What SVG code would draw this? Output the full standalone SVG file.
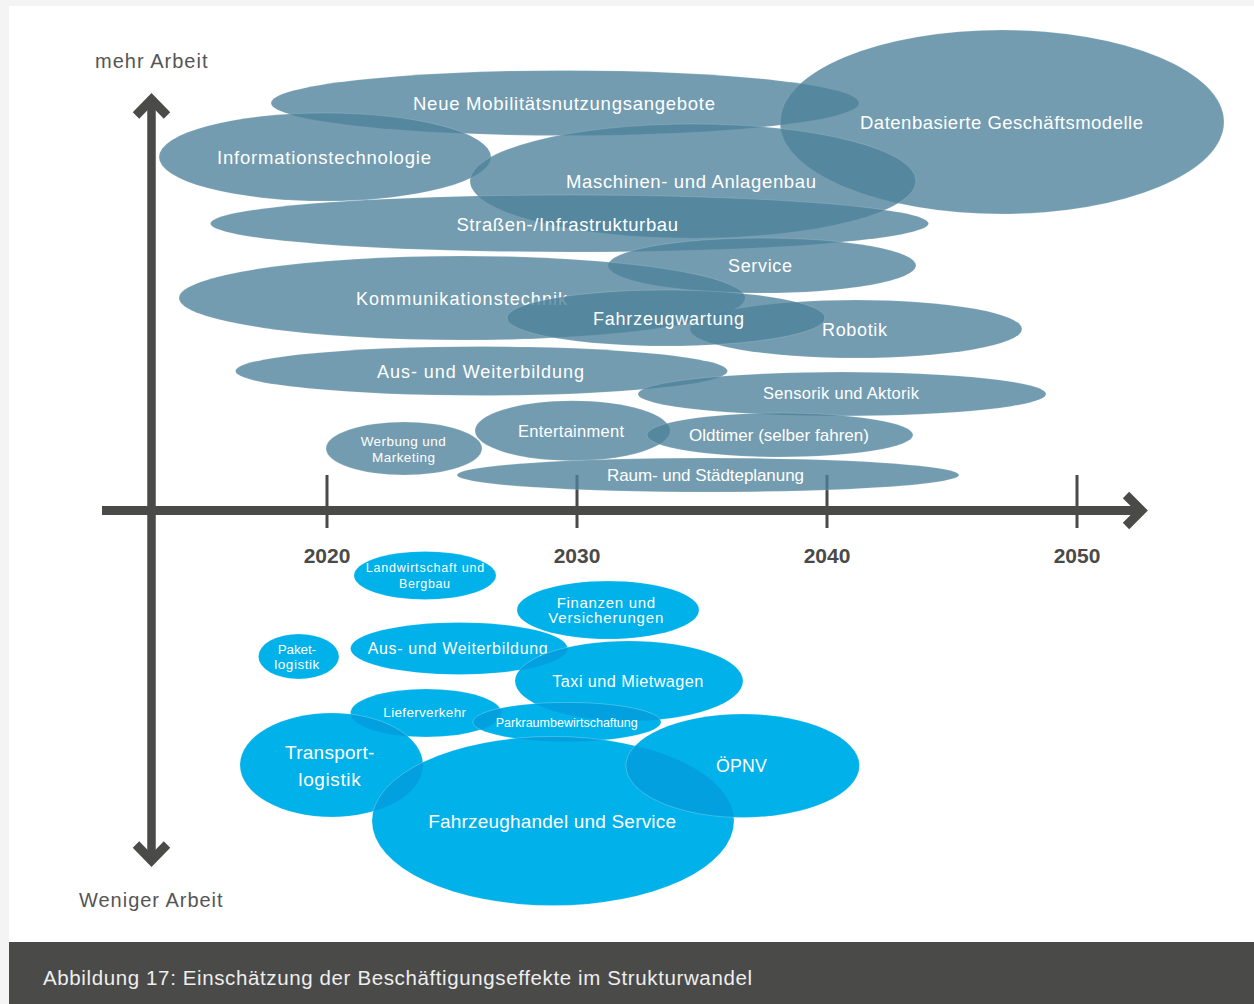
<svg xmlns="http://www.w3.org/2000/svg" width="1254" height="1004" viewBox="0 0 1254 1004">
<style>
.t{font-family:"Liberation Sans",Arial,Helvetica,sans-serif;fill:#ffffff}
.b{fill:#4d829b;fill-opacity:.79;stroke:#ffffff;stroke-opacity:.25;stroke-width:.6}
.c{fill:#00b1ea;stroke:#ffffff;stroke-opacity:.25;stroke-width:.6}
.co{fill:#03a0e0;stroke:#ffffff;stroke-opacity:.3;stroke-width:.6}
.ax{stroke:#4a4a49;fill:none;stroke-linecap:butt;stroke-linejoin:miter}
.yr{font-family:"Liberation Sans",Arial,sans-serif;font-weight:bold;font-size:21px;fill:#4a4a49;text-anchor:middle}
.al{font-family:"Liberation Sans",Arial,sans-serif;font-size:20px;fill:#555555}
</style>
<defs>
<clipPath id="k-aus"><ellipse cx="459" cy="648.5" rx="108.5" ry="26"/></clipPath>
<clipPath id="k-taxi"><ellipse cx="629" cy="681" rx="114" ry="40"/></clipPath>
<clipPath id="k-liefer"><ellipse cx="426" cy="713" rx="75.5" ry="24"/></clipPath>
<clipPath id="k-park"><ellipse cx="567" cy="722" rx="94" ry="19.5"/></clipPath>
<clipPath id="k-trans"><ellipse cx="331.5" cy="765" rx="91.5" ry="52"/></clipPath>
<clipPath id="k-fh"><ellipse cx="553" cy="821" rx="181" ry="84.5"/></clipPath>
</defs>

<rect x="0" y="0" width="1254" height="1004" fill="#f4f4f4"/>
<rect x="9" y="6" width="1245" height="936" fill="#ffffff"/>
<g id="caption">
<rect x="9" y="942" width="1245" height="62" fill="#4a4a49"/>
<text x="43" y="985" font-family="Liberation Sans, Arial, sans-serif" font-size="20.5" fill="#eeeeee" textLength="709">Abbildung 17: Einschätzung der Beschäftigungseffekte im Strukturwandel</text>
</g>

<g id="axes">
<line class="ax" x1="151.5" y1="99" x2="151.5" y2="861" stroke-width="8.5"/>
<polyline class="ax" points="136,115.5 151.5,99.5 167,115.5" stroke-width="9"/>
<polyline class="ax" points="136,844.5 151.5,860.5 167,844.5" stroke-width="9"/>
<line class="ax" x1="102" y1="510.5" x2="1141" y2="510.5" stroke-width="9"/>
<polyline class="ax" points="1126,495 1141.5,510.5 1126,526" stroke-width="9"/>
<line class="ax" x1="327" y1="475" x2="327" y2="528" stroke-width="3"/>
<line class="ax" x1="577" y1="475" x2="577" y2="528" stroke-width="3"/>
<line class="ax" x1="827" y1="475" x2="827" y2="528" stroke-width="3"/>
<line class="ax" x1="1077" y1="475" x2="1077" y2="528" stroke-width="3"/>
<text class="yr" x="327" y="563">2020</text>
<text class="yr" x="577" y="563">2030</text>
<text class="yr" x="827" y="563">2040</text>
<text class="yr" x="1077" y="563">2050</text>
<text class="al" x="95" y="67.7" textLength="112.5">mehr Arbeit</text>
<text class="al" x="79" y="907.3" textLength="143.6">Weniger Arbeit</text>
</g>

<g id="mehr-arbeit">
<g id="n-neue"><ellipse class="b" cx="565" cy="103" rx="294" ry="32.5"/><text class="t" x="413" y="110" font-size="18.5" textLength="302">Neue Mobilitätsnutzungsangebote</text></g>
<g id="n-daten"><ellipse class="b" cx="1002" cy="122" rx="222" ry="92"/><text class="t" x="860" y="129" font-size="18.5" textLength="283">Datenbasierte Geschäftsmodelle</text></g>
<g id="n-info"><ellipse class="b" cx="325" cy="157" rx="166" ry="44"/><text class="t" x="217" y="164" font-size="18.5" textLength="214">Informationstechnologie</text></g>
<g id="n-maschinen"><ellipse class="b" cx="693" cy="181" rx="223" ry="57"/><text class="t" x="566" y="187.7" font-size="18.5" textLength="250">Maschinen- und Anlagenbau</text></g>
<g id="n-strassen"><ellipse class="b" cx="569.5" cy="223.5" rx="359" ry="28.5"/><text class="t" x="456.4" y="230.7" font-size="18.5" textLength="221.6">Straßen-/Infrastrukturbau</text></g>
<g id="n-service"><ellipse class="b" cx="762" cy="265.5" rx="154" ry="27.5"/><text class="t" x="728" y="272" font-size="18" textLength="64">Service</text></g>
<g id="n-komm"><ellipse class="b" cx="462" cy="298" rx="283" ry="42"/><text class="t" x="356" y="305" font-size="18" textLength="211">Kommunikationstechnik</text></g>
<g id="n-robotik"><ellipse class="b" cx="856" cy="329" rx="166" ry="29"/><text class="t" x="822" y="335.7" font-size="18" textLength="65">Robotik</text></g>
<g id="n-wartung"><ellipse class="b" cx="666" cy="318" rx="159" ry="28"/><text class="t" x="593" y="325" font-size="18" textLength="151">Fahrzeugwartung</text></g>
<g id="n-bildung-plus"><ellipse class="b" cx="481.5" cy="371" rx="246" ry="24.5"/><text class="t" x="377" y="378" font-size="18" textLength="207">Aus- und Weiterbildung</text></g>
<g id="n-sensorik"><ellipse class="b" cx="842" cy="394" rx="204" ry="22"/><text class="t" x="763" y="399.3" font-size="16.5" textLength="156">Sensorik und Aktorik</text></g>
<g id="n-werbung"><ellipse class="b" cx="404" cy="448.5" rx="78" ry="26.5"/><text class="t" x="360.7" y="445.7" font-size="13.5" textLength="85">Werbung und</text><text class="t" x="372" y="461.7" font-size="13.5" textLength="63">Marketing</text></g>
<g id="n-entertainment"><ellipse class="b" cx="572.5" cy="430.7" rx="97.5" ry="30"/><text class="t" x="518" y="436.7" font-size="16.5" textLength="106">Entertainment</text></g>
<g id="n-oldtimer"><ellipse class="b" cx="780" cy="435" rx="133" ry="22"/><text class="t" x="689" y="441" font-size="17" textLength="180">Oldtimer (selber fahren)</text></g>
<g id="n-raum"><ellipse class="b" cx="708" cy="475" rx="251" ry="17"/><text class="t" x="607" y="481" font-size="17" textLength="197">Raum- und Städteplanung</text></g>
</g>

<g id="weniger-arbeit">
<g id="n-landwirtschaft"><ellipse class="c" cx="425" cy="575.5" rx="71" ry="24"/><text class="t" x="365.7" y="571.7" font-size="12.5" textLength="118.6">Landwirtschaft und</text><text class="t" x="399" y="588.3" font-size="12.5" textLength="51">Bergbau</text></g>
<g id="n-finanzen"><ellipse class="c" cx="608" cy="610" rx="91" ry="29"/><text class="t" x="556.7" y="607.7" font-size="15" textLength="98.3">Finanzen und</text><text class="t" x="548.3" y="623.3" font-size="15" textLength="115">Versicherungen</text></g>
<g id="n-paket"><ellipse class="c" cx="298.7" cy="656.5" rx="40.3" ry="22.5"/><text class="t" x="277.7" y="654.3" font-size="13.5" textLength="38.3">Paket-</text><text class="t" x="274.3" y="669" font-size="13.5" textLength="45">logistik</text></g>
<g id="n-bildung-minus"><ellipse class="c" cx="459" cy="648.5" rx="108.5" ry="26"/><text class="t" x="367.7" y="654.3" font-size="16" textLength="180">Aus- und Weiterbildung</text></g>
<g id="n-taxi"><ellipse class="c" cx="629" cy="681" rx="114" ry="40"/><ellipse class="co" cx="629" cy="681" rx="114" ry="40" clip-path="url(#k-aus)"/><text class="t" x="552.3" y="686.7" font-size="16.3" textLength="151">Taxi und Mietwagen</text></g>
<g id="n-liefer"><ellipse class="c" cx="426" cy="713" rx="75.5" ry="24"/><text class="t" x="383.3" y="716.7" font-size="13.5" textLength="82.7">Lieferverkehr</text></g>
<g id="n-park"><ellipse class="c" cx="567" cy="722" rx="94" ry="19.5"/><ellipse class="co" cx="567" cy="722" rx="94" ry="19.5" clip-path="url(#k-liefer)"/><ellipse class="co" cx="567" cy="722" rx="94" ry="19.5" clip-path="url(#k-taxi)"/><text class="t" x="495.7" y="726.7" font-size="12.5" textLength="142">Parkraumbewirtschaftung</text></g>
<g id="n-transport"><ellipse class="c" cx="331.5" cy="765" rx="91.5" ry="52"/><ellipse class="co" cx="331.5" cy="765" rx="91.5" ry="52" clip-path="url(#k-liefer)"/><text class="t" x="285" y="759.3" font-size="19" textLength="89.3">Transport-</text><text class="t" x="298.3" y="785.7" font-size="19" textLength="62.4">logistik</text></g>
<g id="n-handel"><ellipse class="c" cx="553" cy="821" rx="181" ry="84.5"/><ellipse class="co" cx="553" cy="821" rx="181" ry="84.5" clip-path="url(#k-park)"/><ellipse class="co" cx="553" cy="821" rx="181" ry="84.5" clip-path="url(#k-trans)"/><text class="t" x="428.3" y="827.7" font-size="19" textLength="247.7">Fahrzeughandel und Service</text></g>
<g id="n-oepnv"><ellipse class="c" cx="742.7" cy="765.7" rx="116.7" ry="51.7"/><ellipse class="co" cx="742.7" cy="765.7" rx="116.7" ry="51.7" clip-path="url(#k-fh)"/><text class="t" x="716" y="771.7" font-size="17.7" textLength="50.7">ÖPNV</text></g>
</g>
</svg>
